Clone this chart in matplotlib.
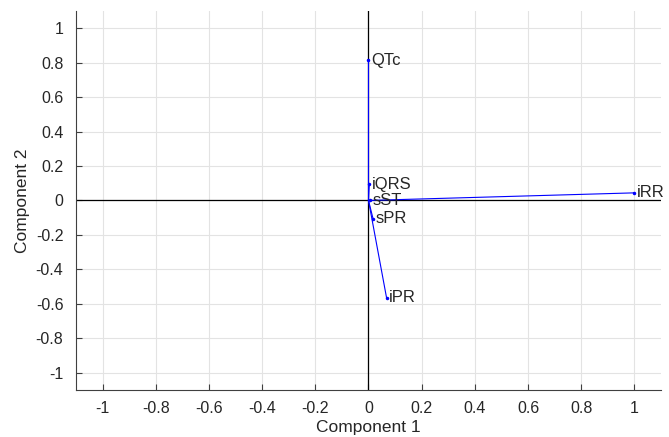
# biplot of the first two principal components

import numpy as np
import matplotlib
matplotlib.use("Agg")
import matplotlib.pyplot as plt
from matplotlib.ticker import FuncFormatter

plt.rcParams["font.family"] = ["Liberation Sans", "DejaVu Sans"]

# variable loadings
names = ["QTc", "iQRS", "sST", "sPR", "iPR", "iRR"]
comp1 = [0.0, 0.003, 0.004, 0.017, 0.068, 0.998]
comp2 = [0.815, 0.095, 0.0, -0.105, -0.565, 0.044]

ticks = np.round(np.arange(-1, 1.01, 0.2), 1)


def matlab_fmt(v, pos):
    return "%g" % round(v, 1) if abs(v) > 1e-9 else "0"


fig = plt.figure(figsize=(6.69, 4.37), dpi=100)
ax = fig.add_axes([0.1136, 0.1076, 0.8744, 0.8674])

ax.axhline(0, color="black", lw=0.9, zorder=1)
ax.axvline(0, color="black", lw=0.9, zorder=1)

for name, x, y in zip(names, comp1, comp2):
    ax.plot([0, x], [0, y], color="blue", lw=0.8, zorder=2)
    ax.plot(x, y, ".", color="blue", ms=3, zorder=3)
    ax.text(x + 0.01, y, name, fontsize=12, color="#262626", va="center", ha="left", zorder=4)

ax.set_xlim(-1.1, 1.1)
ax.set_ylim(-1.1, 1.1)
ax.set_xticks(ticks)
ax.set_yticks(ticks)
ax.xaxis.set_major_formatter(FuncFormatter(matlab_fmt))
ax.yaxis.set_major_formatter(FuncFormatter(matlab_fmt))
ax.tick_params(direction="in", length=4, width=0.8, colors="#404040", labelsize=11.5, labelcolor="#262626")
ax.tick_params(axis="x", pad=8)
ax.tick_params(axis="y", pad=9)
ax.grid(True, color="#e3e3e3", lw=0.8)
ax.set_axisbelow(True)

for side in ["top", "right"]:
    ax.spines[side].set_visible(False)
for side in ["left", "bottom"]:
    ax.spines[side].set_color("#404040")
    ax.spines[side].set_linewidth(0.8)

ax.set_xlabel("Component 1", fontsize=12.5, color="#262626", labelpad=3)
ax.set_ylabel("Component 2", fontsize=12.5, color="#262626", labelpad=4)

fig.savefig("out.png", dpi=100)
